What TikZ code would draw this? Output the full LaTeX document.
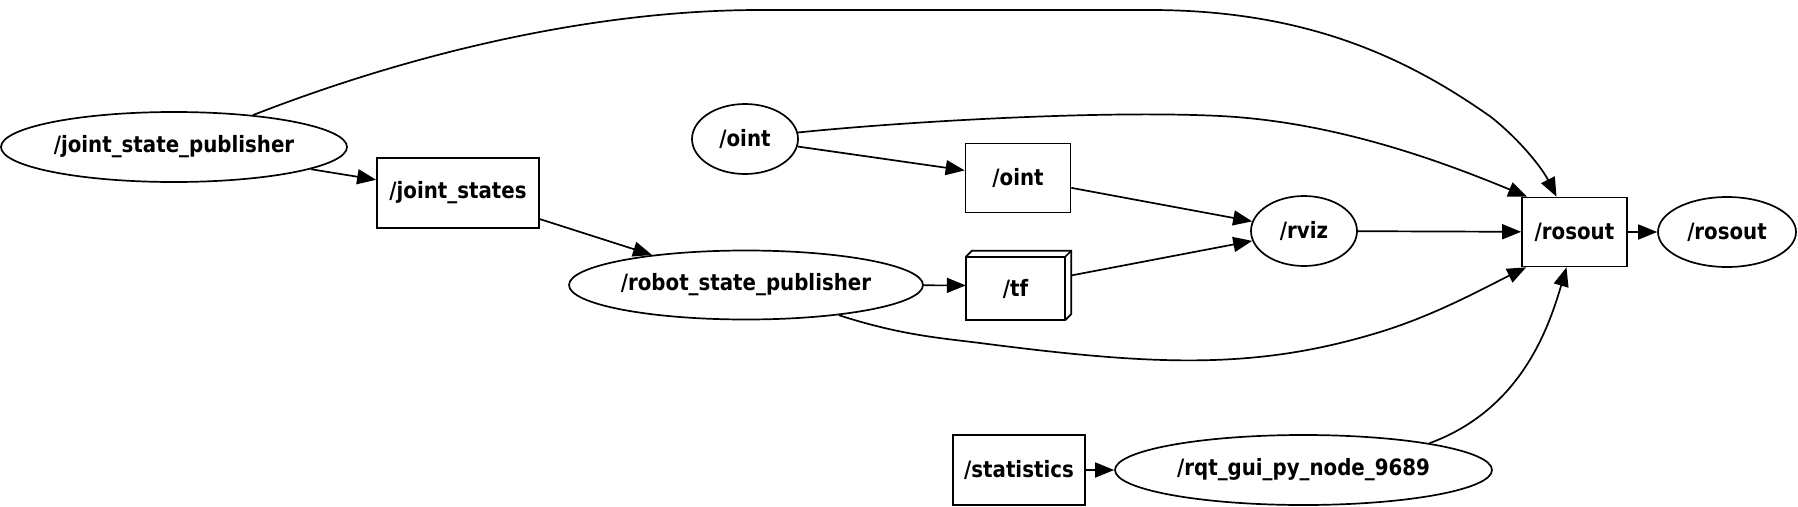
\documentclass[tikz,border=0pt]{standalone}
\usepackage{fontspec}
\setmainfont{DejaVu Sans}[FakeStretch=0.88]
\usetikzlibrary{shapes.geometric,arrows.meta}
\tikzset{
  base/.style={draw=black, line width=1.7pt, inner sep=0pt, font=\fontsize{22.5}{26}\selectfont\bfseries},
  ell/.style={base, ellipse},
  box/.style={base, rectangle},
  edge/.style={line width=1.7pt, -{Triangle[length=19pt,width=15pt]}},
}
\begin{document}
\begin{tikzpicture}[x=1pt,y=-1pt]
\useasboundingbox (0,0) rectangle (1798,506);
% nodes
\node[ell, minimum width=346pt, minimum height=70pt] (jsp) at (174,147) {/joint\_state\_publisher};
\node[box, minimum width=162pt, minimum height=70pt] (js) at (458,193) {/joint\_states};
\node[ell, minimum width=106pt, minimum height=70pt] (ointe) at (745,139) {/oint};
\node[box, minimum width=105pt, minimum height=69pt] (ointb) at (1018,178) {/oint};
\node[ell, minimum width=354pt, minimum height=69pt] (rsp) at (746,285) {/robot\_state\_publisher};
\node[minimum width=105pt, minimum height=69pt, inner sep=0pt] (tf) at (1018.5,285.5) {};
\node[ell, minimum width=106pt, minimum height=70pt] (rviz) at (1304,231) {/rviz};
\node[box, minimum width=105pt, minimum height=69pt] (rsbox) at (1574.5,232) {/rosout};
\node[ell, minimum width=138pt, minimum height=70pt] (rse) at (1727,232) {/rosout};
\node[box, minimum width=132pt, minimum height=70pt] (stats) at (1019,470) {/statistics};
\node[ell, minimum width=377pt, minimum height=70pt] (rqt) at (1303.5,470) {/rqt\_gui\_py\_node\_9689};
% 3D box for /tf
\draw[line width=1.7pt, line join=miter] (tf.south west) rectangle ([xshift=-6pt,yshift=-6pt]tf.north east);
\draw[line width=1.7pt, line join=miter] ([yshift=-6pt]tf.north west) -- ([xshift=6pt]tf.north west) -- (tf.north east) -- ([yshift=6pt]tf.south east) -- ([xshift=-6pt]tf.south east);
\draw[line width=1.7pt] ([xshift=-6pt,yshift=-6pt]tf.north east) -- (tf.north east);
\node[font=\fontsize{22.5}{26}\selectfont\bfseries] (tflabel) at ([xshift=-3pt,yshift=-3pt]tf.center) {/tf};
% straight edges
\draw[edge] (jsp) -- (js);
\draw[edge] (js) -- (rsp);
\draw[edge] (ointe) -- (ointb);
\draw[edge] (ointb) -- (rviz);
\draw[edge] (rsp) -- (tf);
\draw[edge] (tf) -- (rviz);
\draw[edge] (rviz) -- (rsbox);
\draw[edge] (rsbox) -- (rse);
\draw[edge] (stats) -- (rqt);
% curved edges
\draw[edge] (jsp.22) .. controls (420,50) and (600,10) .. (760,10) -- (1150,10) .. controls (1310,10) and (1410,60) .. (1491,117) .. controls (1520,140) and (1542,168) .. ([xshift=-18pt]rsbox.north);
\draw[edge] (ointe.7) .. controls (900,122) and (1100,110) .. (1220,116) .. controls (1340,122) and (1450,165) .. ([xshift=6pt]rsbox.north west);
\draw[edge] (rsp.-18) .. controls (900,335) and (940,338) .. (980,343) .. controls (1150,365) and (1250,370) .. (1370,335) .. controls (1430,318) and (1480,290) .. ([xshift=5pt]rsbox.south west);
\draw[edge] (rqt.12) .. controls (1520,410) and (1548,330) .. ([xshift=-8pt]rsbox.south);
\end{tikzpicture}
\end{document}
